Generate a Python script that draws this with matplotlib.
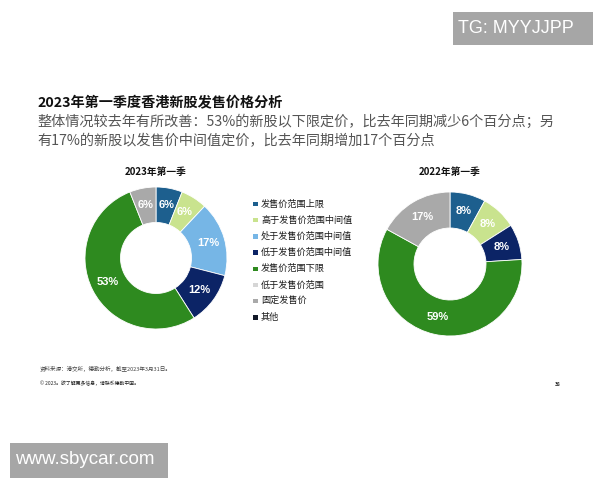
import matplotlib
matplotlib.use("Agg")
import matplotlib.pyplot as plt
from matplotlib.patches import Rectangle
import numpy as np

plt.rcParams['font.family'] = ['Noto Sans CJK SC', 'DejaVu Sans']

W, H = 600, 480

# ---------------- data ----------------
title = "2023年第一季度香港新股发售价格分析"
subtitle_lines = ["整体情况较去年有所改善：53%的新股以下限定价，比去年同期减少6个百分点；另",
                  "有17%的新股以发售价中间值定价，比去年同期增加17个百分点"]

legend_labels = ["发售价范围上限", "高于发售价范围中间值", "处于发售价范围中间值", "低于发售价范围中间值",
                 "发售价范围下限", "低于发售价范围", "固定发售价", "其他"]
legend_colors = ["#1d5f8e", "#c9e38e", "#76b6e6", "#0c2466", "#2e8a1f", "#d6d6d6", "#a9a9a9", "#111827"]

title_2023 = "2023年第一季"
cats_2023 = ["发售价范围上限", "高于发售价范围中间值", "处于发售价范围中间值", "低于发售价范围中间值",
             "发售价范围下限", "固定发售价"]
vals_2023 = [6, 6, 17, 12, 53, 6]

title_2022 = "2022年第一季"
cats_2022 = ["发售价范围上限", "高于发售价范围中间值", "低于发售价范围中间值", "发售价范围下限", "固定发售价"]
vals_2022 = [8, 8, 8, 59, 17]

source_text = "资料来源：港交所，德勤分析，截至2023年3月31日。"
copyright_text = "© 2023。欲了解更多信息，请联系德勤中国。"
page_no = "38"

color_map = dict(zip(legend_labels, legend_colors))

fig = plt.figure(figsize=(W / 100, H / 100), dpi=100)
fig.patch.set_facecolor("white")


def fx(x):
    return x / W


def fy(y):
    return 1 - y / H


def donut(cx, cy, r, cats, vals, ttl, ty):
    ax = fig.add_axes([fx(cx - r), fy(cy + r), 2 * r / W, 2 * r / H])
    cols = [color_map[c] for c in cats]
    ax.pie(vals, colors=cols, startangle=90, counterclock=False, radius=1,
           wedgeprops=dict(width=0.5, edgecolor="white", linewidth=0.6))
    total = sum(vals)
    cum = 0
    for v in vals:
        mid = 90 - 360 * (cum + v / 2) / total
        cum += v
        a = np.deg2rad(mid)
        ax.text(0.76 * np.cos(a), 0.76 * np.sin(a), f"{v}%", ha="center", va="center",
                color="white", fontsize=8, fontweight="bold", family=["Liberation Sans"])
    ax.set_xlim(-1, 1)
    ax.set_ylim(-1, 1)
    ax.axis("off")
    fig.text(fx(cx), fy(ty), ttl, ha="center", va="center", fontsize=7, fontweight="bold", color="#111111")


donut(156, 258, 71, cats_2023, vals_2023, title_2023, 172)
donut(450, 264, 72, cats_2022, vals_2022, title_2022, 172)

# legend
for i, (lab, col) in enumerate(zip(legend_labels, legend_colors)):
    y = 204 + i * 16.2
    fig.patches.append(Rectangle((fx(253), fy(y + 2.2)), 4.5 / W, 4.5 / H, transform=fig.transFigure,
                                 facecolor=col, edgecolor="none"))
    fig.text(fx(261), fy(y), lab, ha="left", va="center", fontsize=6.6, color="#1a1a1a")

# titles
fig.text(fx(37), fy(103), title, ha="left", va="center", fontsize=10.2, fontweight="bold", color="#111111")
for i, line in enumerate(subtitle_lines):
    fig.text(fx(37), fy(122 + i * 19), line, ha="left", va="center", fontsize=10.2, color="#555555")

# footer
fig.text(fx(40), fy(368), source_text, ha="left", va="center", fontsize=4, color="#444444")
fig.text(fx(40), fy(384), copyright_text, ha="left", va="center", fontsize=3.5, color="#222222")
fig.text(fx(558), fy(384), page_no, ha="center", va="center", fontsize=3.5, fontweight="bold", color="#222222")

# watermark boxes
fig.patches.append(Rectangle((fx(453), fy(45)), 140 / W, 33 / H, transform=fig.transFigure,
                             facecolor="#a6a6a6", edgecolor="none"))
fig.text(fx(458), fy(28.5), "TG: MYYJJPP", ha="left", va="center", fontsize=13, color="white",
         family=["Liberation Sans"])
fig.patches.append(Rectangle((fx(10), fy(478)), 158 / W, 35 / H, transform=fig.transFigure,
                             facecolor="#a6a6a6", edgecolor="none"))
fig.text(fx(15), fy(460), "www.sbycar.com", ha="left", va="center", fontsize=13.5, color="white",
         family=["Liberation Sans"])

fig.savefig("out.png", dpi=100, facecolor="white")
